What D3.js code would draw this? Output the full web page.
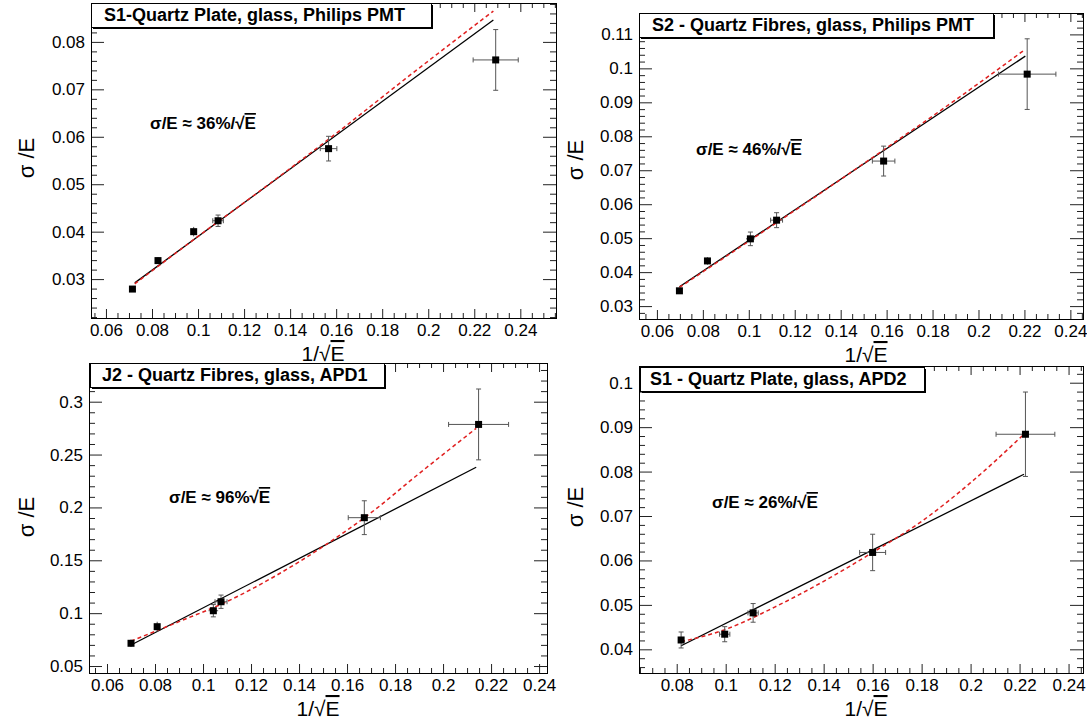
<!DOCTYPE html>
<html><head><meta charset="utf-8">
<script src="https://cdn.jsdelivr.net/npm/d3@7"></script>
<style>
body{margin:0;background:#fff}
svg{display:block}
text{font-family:"Liberation Sans",Arial,Helvetica,sans-serif}
</style>
</head><body>
<svg id="c" width="1087" height="721"></svg>
<script>
// ---------- Panel 1 : S1 quartz plate, PMT ----------
const p1Title = "S1-Quartz Plate, glass, Philips PMT";
const p1Res = "36%/";
const p1X    = [0.0715, 0.0826, 0.0981, 0.1087, 0.1567, 0.2293];
const p1Y    = [0.0279, 0.0339, 0.0400, 0.0423, 0.0575, 0.0762];
const p1Xerr = [0.0008, 0.0010, 0.0010, 0.0023, 0.0036, 0.0098];
const p1Yerr = [0.0005, 0.0007, 0.0010, 0.0012, 0.0026, 0.0064];
const p1LinX = [0.0725, 0.2283];
const p1LinY = [0.0292, 0.0846];
const p1CurX = [0.0725, 0.100, 0.130, 0.160, 0.190, 0.2283];
const p1CurY = [0.0290, 0.0390, 0.0497, 0.0607, 0.0722, 0.0865];
const p1XTicks = [0.06, 0.08, 0.10, 0.12, 0.14, 0.16, 0.18, 0.20, 0.22, 0.24];
const p1XLabels = ["0.06","0.08","0.1","0.12","0.14","0.16","0.18","0.2","0.22","0.24"];
const p1YTicks = [0.03, 0.04, 0.05, 0.06, 0.07, 0.08];
const p1YLabels = ["0.03","0.04","0.05","0.06","0.07","0.08"];

// ---------- Panel 2 : S2 quartz fibres, PMT ----------
const p2Title = "S2 - Quartz Fibres, glass, Philips PMT";
const p2Res = "46%/";
const p2X    = [0.0698, 0.0820, 0.1007, 0.1121, 0.1587, 0.2212];
const p2Y    = [0.0345, 0.0433, 0.0498, 0.0553, 0.0727, 0.0983];
const p2Xerr = [0.0008, 0.0010, 0.0019, 0.0026, 0.0049, 0.0125];
const p2Yerr = [0.0005, 0.0011, 0.0020, 0.0022, 0.0044, 0.0104];
const p2LinX = [0.0698, 0.2204];
const p2LinY = [0.0357, 0.1036];
const p2CurX = [0.0698, 0.100, 0.130, 0.160, 0.190, 0.2204];
const p2CurY = [0.0355, 0.0491, 0.0627, 0.0766, 0.0907, 0.1056];
const p2XTicks = [0.06, 0.08, 0.10, 0.12, 0.14, 0.16, 0.18, 0.20, 0.22, 0.24];
const p2XLabels = ["0.06","0.08","0.1","0.12","0.14","0.16","0.18","0.2","0.22","0.24"];
const p2YTicks = [0.03, 0.04, 0.05, 0.06, 0.07, 0.08, 0.09, 0.10, 0.11];
const p2YLabels = ["0.03","0.04","0.05","0.06","0.07","0.08","0.09","0.1","0.11"];

// ---------- Panel 3 : J2 quartz fibres, APD1 ----------
const p3Title = "J2 - Quartz Fibres, glass, APD1";
const p3Res = "96%";
const p3X    = [0.0700, 0.0809, 0.1043, 0.1075, 0.1672, 0.2148];
const p3Y    = [0.0715, 0.0872, 0.1023, 0.1108, 0.1903, 0.2785];
const p3Xerr = [0.0008, 0.0010, 0.0020, 0.0025, 0.0067, 0.0125];
const p3Yerr = [0.0035, 0.0047, 0.0058, 0.0063, 0.0160, 0.0335];
const p3LinX = [0.0700, 0.2138];
const p3LinY = [0.0699, 0.2380];
const p3CurX = [0.0700, 0.090, 0.110, 0.130, 0.150, 0.170, 0.190, 0.2138];
const p3CurY = [0.0736, 0.0920, 0.1110, 0.1350, 0.1630, 0.1950, 0.2320, 0.2748];
const p3XTicks = [0.06, 0.08, 0.10, 0.12, 0.14, 0.16, 0.18, 0.20, 0.22, 0.24];
const p3XLabels = ["0.06","0.08","0.1","0.12","0.14","0.16","0.18","0.2","0.22","0.24"];
const p3YTicks = [0.05, 0.10, 0.15, 0.20, 0.25, 0.30];
const p3YLabels = ["0.05","0.1","0.15","0.2","0.25","0.3"];

// ---------- Panel 4 : S1 quartz plate, APD2 ----------
const p4Title = "S1 - Quartz Plate, glass, APD2";
const p4Res = "26%/";
const p4X    = [0.0818, 0.0996, 0.1112, 0.1600, 0.2224];
const p4Y    = [0.0421, 0.0434, 0.0482, 0.0618, 0.0884];
const p4Xerr = [0.0010, 0.0021, 0.0021, 0.0053, 0.0120];
const p4Yerr = [0.0018, 0.0017, 0.0021, 0.0041, 0.0095];
const p4LinX = [0.0818, 0.2218];
const p4LinY = [0.0408, 0.0794];
const p4CurX = [0.0818, 0.100, 0.120, 0.140, 0.160, 0.180, 0.200, 0.2218];
const p4CurY = [0.0417, 0.0445, 0.0495, 0.0553, 0.0618, 0.0688, 0.0775, 0.0884];
const p4XTicks = [0.08, 0.10, 0.12, 0.14, 0.16, 0.18, 0.20, 0.22, 0.24];
const p4XLabels = ["0.08","0.1","0.12","0.14","0.16","0.18","0.2","0.22","0.24"];
const p4YTicks = [0.04, 0.05, 0.06, 0.07, 0.08, 0.09, 0.10];
const p4YLabels = ["0.04","0.05","0.06","0.07","0.08","0.09","0.1"];

const yTitle = "σ /E";
const xTitleA = "1/√";
const xTitleB = "E";

// ---------- layout (positions / styles only) ----------
const panels = [
  {title:p1Title,res:p1Res,x:p1X,y:p1Y,xe:p1Xerr,ye:p1Yerr,lx:p1LinX,ly:p1LinY,cx:p1CurX,cy:p1CurY,
   xt:p1XTicks,xl:p1XLabels,yt:p1YTicks,yl:p1YLabels,
   f:[91,3,556,318], xd:[0.0535,0.2555], yd:[0.0218,0.0882], xm:0.005, ym:0.002,
   box:[91,3,431,27], tx:104, ann:[150,129], ytx:34, yty:158, xtx:323, xty:361},
  {title:p2Title,res:p2Res,x:p2X,y:p2Y,xe:p2Xerr,ye:p2Yerr,lx:p2LinX,ly:p2LinY,cx:p2CurX,cy:p2CurY,
   xt:p2XTicks,xl:p2XLabels,yt:p2YTicks,yl:p2YLabels,
   f:[639,13,1083,319], xd:[0.0522,0.2455], yd:[0.0262,0.1163], xm:0.005, ym:0.002,
   box:[639,13,993,37], tx:652, ann:[696,155], ytx:583, yty:160, xtx:866, xty:362},
  {title:p3Title,res:p3Res,x:p3X,y:p3Y,xe:p3Xerr,ye:p3Yerr,lx:p3LinX,ly:p3LinY,cx:p3CurX,cy:p3CurY,
   xt:p3XTicks,xl:p3XLabels,yt:p3YTicks,yl:p3YLabels,
   f:[89,363,547,673], xd:[0.0525,0.2433], yd:[0.0434,0.3366], xm:0.005, ym:0.01,
   box:[90,363,384,387], tx:102, ann:[169,503], ytx:34, yty:517, xtx:318, xty:716},
  {title:p4Title,res:p4Res,x:p4X,y:p4Y,xe:p4Xerr,ye:p4Yerr,lx:p4LinX,ly:p4LinY,cx:p4CurX,cy:p4CurY,
   xt:p4XTicks,xl:p4XLabels,yt:p4YTicks,yl:p4YLabels,
   f:[639,366,1083,673], xd:[0.0646,0.2459], yd:[0.03467,0.10376], xm:0.005, ym:0.002,
   box:[640,367,924,391], tx:650, ann:[712,508], ytx:583, yty:507, xtx:866, xty:716}
];

const svg = d3.select("#c");
svg.append("rect").attr("width",1087).attr("height",721).attr("fill","#fff");

function minors(dom, step, majors){
  const out = [];
  const s = Math.ceil(dom[0]/step - 1e-9), e = Math.floor(dom[1]/step + 1e-9);
  for (let i = s; i <= e; i++){
    const v = +(i*step).toFixed(6);
    if (!majors.some(m => Math.abs(m - v) < 1e-7)) out.push(v);
  }
  return out;
}

panels.forEach(p => {
  const [x0,y0,x1,y1] = p.f;
  const xs = d3.scaleLinear().domain(p.xd).range([x0,x1]);
  const ys = d3.scaleLinear().domain(p.yd).range([y1,y0]);
  const g = svg.append("g");

  const xMin = minors(p.xd, p.xm, p.xt);
  const yMin = minors(p.yd, p.ym, p.yt);
  const styleAxis = sel => {
    sel.select(".domain").remove();
    sel.selectAll("line").attr("stroke","#222").attr("stroke-width",1);
    sel.selectAll("text").attr("font-family",'"Liberation Sans",Arial,sans-serif')
       .attr("font-size",17).attr("fill","#000");
  };
  // bottom
  g.append("g").attr("transform",`translate(0,${y1})`)
    .call(d3.axisBottom(xs).tickValues(p.xt).tickFormat((d,i)=>p.xl[i]).tickSize(-9).tickSizeOuter(0).tickPadding(6))
    .call(styleAxis);
  g.append("g").attr("transform",`translate(0,${y1})`)
    .call(d3.axisBottom(xs).tickValues(xMin).tickFormat("").tickSize(-5).tickSizeOuter(0)).call(styleAxis);
  // top
  g.append("g").attr("transform",`translate(0,${y0})`)
    .call(d3.axisTop(xs).tickValues(p.xt).tickFormat("").tickSize(-9).tickSizeOuter(0)).call(styleAxis);
  g.append("g").attr("transform",`translate(0,${y0})`)
    .call(d3.axisTop(xs).tickValues(xMin).tickFormat("").tickSize(-5).tickSizeOuter(0)).call(styleAxis);
  // left
  g.append("g").attr("transform",`translate(${x0},0)`)
    .call(d3.axisLeft(ys).tickValues(p.yt).tickFormat((d,i)=>p.yl[i]).tickSize(-13).tickSizeOuter(0).tickPadding(6))
    .call(styleAxis);
  g.append("g").attr("transform",`translate(${x0},0)`)
    .call(d3.axisLeft(ys).tickValues(yMin).tickFormat("").tickSize(-6).tickSizeOuter(0)).call(styleAxis);
  // right
  g.append("g").attr("transform",`translate(${x1},0)`)
    .call(d3.axisRight(ys).tickValues(p.yt).tickFormat("").tickSize(-13).tickSizeOuter(0)).call(styleAxis);
  g.append("g").attr("transform",`translate(${x1},0)`)
    .call(d3.axisRight(ys).tickValues(yMin).tickFormat("").tickSize(-6).tickSizeOuter(0)).call(styleAxis);

  // frame
  g.append("rect").attr("x",x0+0.5).attr("y",y0+0.5).attr("width",x1-x0).attr("height",y1-y0)
    .attr("fill","none").attr("stroke","#000").attr("stroke-width",1);

  // fit lines
  const line = d3.line().x(d=>xs(d[0])).y(d=>ys(d[1]));
  g.append("path").datum(p.lx.map((v,i)=>[v,p.ly[i]])).attr("d",line)
    .attr("fill","none").attr("stroke","#000").attr("stroke-width",1.3);
  g.append("path").datum(p.cx.map((v,i)=>[v,p.cy[i]])).attr("d",line.curve(d3.curveMonotoneX))
    .attr("fill","none").attr("stroke","#e02020").attr("stroke-width",1.5).attr("stroke-dasharray","4,3");

  // error bars
  const pts = p.x.map((v,i)=>({x:v,y:p.y[i],xe:p.xe[i],ye:p.ye[i]}));
  const eg = g.append("g").attr("stroke","#555").attr("stroke-width",1);
  pts.forEach(d => {
    const cx = xs(d.x), cy = ys(d.y);
    const xa = xs(d.x - d.xe), xb = xs(d.x + d.xe);
    const ya = ys(d.y + d.ye), yb = ys(d.y - d.ye);
    eg.append("line").attr("x1",xa).attr("x2",xb).attr("y1",cy).attr("y2",cy);
    eg.append("line").attr("x1",cx).attr("x2",cx).attr("y1",ya).attr("y2",yb);
    if (xb - xa > 10){
      eg.append("line").attr("x1",xa).attr("x2",xa).attr("y1",cy-2.5).attr("y2",cy+2.5);
      eg.append("line").attr("x1",xb).attr("x2",xb).attr("y1",cy-2.5).attr("y2",cy+2.5);
    }
    if (yb - ya > 10){
      eg.append("line").attr("x1",cx-2.5).attr("x2",cx+2.5).attr("y1",ya).attr("y2",ya);
      eg.append("line").attr("x1",cx-2.5).attr("x2",cx+2.5).attr("y1",yb).attr("y2",yb);
    }
  });
  // markers
  g.selectAll("rect.m").data(pts).enter().append("rect").attr("class","m")
    .attr("x",d=>xs(d.x)-3.5).attr("y",d=>ys(d.y)-3.5).attr("width",7).attr("height",7).attr("fill","#000");

  // title box with shadow
  const [bx0,by0,bx1,by1] = p.box;
  g.append("rect").attr("x",bx0+2).attr("y",by0+2).attr("width",bx1-bx0).attr("height",by1-by0).attr("fill","#000");
  g.append("rect").attr("x",bx0+0.5).attr("y",by0+0.5).attr("width",bx1-bx0).attr("height",by1-by0)
    .attr("fill","#fff").attr("stroke","#000").attr("stroke-width",1);
  g.append("text").attr("x",p.tx).attr("y",by0+18).attr("font-size",18).attr("font-weight","bold").text(p.title);

  // annotation
  const t = g.append("text").attr("x",p.ann[0]).attr("y",p.ann[1]).attr("font-size",17).attr("font-weight","bold");
  t.append("tspan").text("σ/E ≈ " + p.res + "√");
  t.append("tspan").style("text-decoration","overline").text("E");

  // axis titles
  g.append("text").attr("transform",`translate(${p.ytx},${p.yty}) rotate(-90)`)
    .attr("text-anchor","middle").attr("font-size",22).text(yTitle);
  const xt = g.append("text").attr("x",p.xtx).attr("y",p.xty).attr("text-anchor","middle").attr("font-size",21);
  xt.append("tspan").text(xTitleA);
  xt.append("tspan").style("text-decoration","overline").text(xTitleB);
});
</script>
</body></html>
